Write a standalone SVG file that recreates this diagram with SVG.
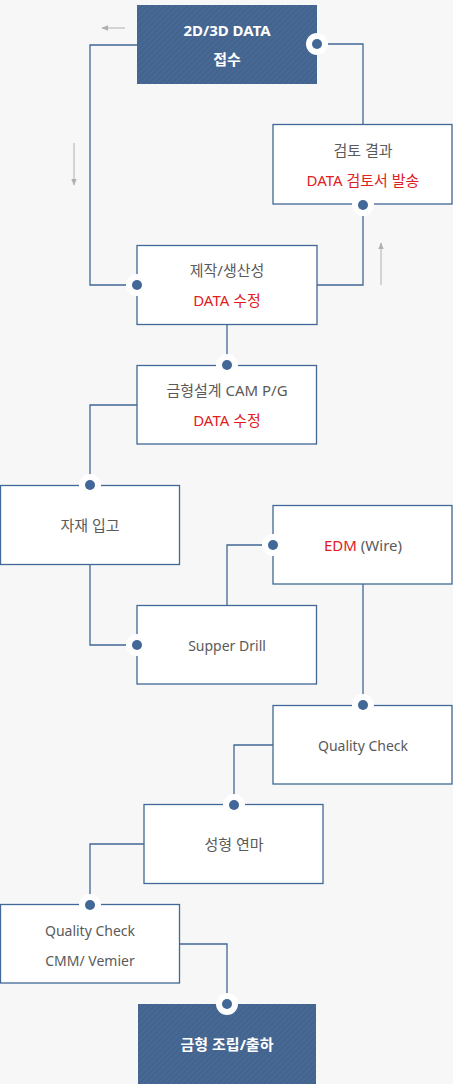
<svg xmlns="http://www.w3.org/2000/svg" width="453" height="1084" viewBox="0 0 453 1084">
<defs>
<pattern id="hatch" patternUnits="userSpaceOnUse" width="4" height="4" patternTransform="rotate(45)">
<rect width="4" height="4" fill="#466893"/>
<line x1="0" y1="0" x2="0" y2="4" stroke="#3d5f8a" stroke-width="1.5"/>
</pattern>
<marker id="ah" viewBox="0 0 10 10" refX="9" refY="5" markerWidth="7" markerHeight="7" orient="auto" markerUnits="userSpaceOnUse">
<path d="M0,1 L10,5 L0,9 z" fill="#b0b0b0"/>
</marker>
<style>
.box{fill:#fff;stroke:#416896;stroke-width:1.3}
.dark{fill:url(#hatch);stroke:none}
.t{font-family:"Noto Sans","Noto Sans CJK KR",sans-serif;font-size:15px;fill:#5a5a5a;text-anchor:middle;dominant-baseline:central}
.l{font-size:14px}
.r{fill:#e0201f}
.w{fill:#fff;font-weight:bold}
.c{fill:none;stroke:#416896;stroke-width:1.3}
.g{fill:none;stroke:#b0b0b0;stroke-width:1;marker-end:url(#ah)}
.halo{fill:#fff}
.dot{fill:#416896}
</style>
</defs>
<rect width="453" height="1084" fill="#f7f7f7"/>
<g id="connectors">
<polyline class="c" points="317,44 363,44 363,124"/>
<polyline class="c" points="137,45 90,45 90,285 137,285"/>
<polyline class="c" points="363,205 363,285 317,285"/>
<polyline class="c" points="227,324 227,365"/>
<polyline class="c" points="137,405 90,405 90,485"/>
<polyline class="c" points="90,564 90,645 137,645"/>
<polyline class="c" points="227,605 227,545 273,545"/>
<polyline class="c" points="363,584 363,705"/>
<polyline class="c" points="273,745 234,745 234,805"/>
<polyline class="c" points="144,844 90,844 90,905"/>
<polyline class="c" points="179,944 227,944 227,1004"/>
<line class="g" x1="125" y1="28" x2="102" y2="28"/>
<line class="g" x1="74" y1="143" x2="74" y2="185"/>
<line class="g" x1="381" y1="285" x2="381" y2="243"/>
</g>
<g id="n1">
<rect class="dark" x="137" y="5" width="180" height="79"/>
<text class="t w" x="227" y="30">2D/3D DATA</text>
<text class="t w" x="227" y="59">접수</text>
<circle class="halo" cx="317" cy="44" r="11"/><circle class="dot" cx="317" cy="44" r="5"/>
</g>
<g id="n2">
<rect class="box" x="273" y="124.5" width="179" height="79.5"/>
<text class="t" x="363" y="150">검토 결과</text>
<text class="t r" x="363" y="180">DATA 검토서 발송</text>
<circle class="halo" cx="363" cy="205" r="11"/><circle class="dot" cx="363" cy="205" r="5"/>
</g>
<g id="n3">
<rect class="box" x="137" y="245.5" width="180" height="79"/>
<text class="t" x="227" y="270">제작/생산성</text>
<text class="t r" x="227" y="300">DATA 수정</text>
<circle class="halo" cx="137" cy="285" r="11"/><circle class="dot" cx="137" cy="285" r="5"/>
</g>
<g id="n4">
<rect class="box" x="137" y="365.5" width="179.5" height="78.5"/>
<text class="t" x="227" y="390">금형설계 CAM P/G</text>
<text class="t r" x="227" y="420">DATA 수정</text>
<circle class="halo" cx="227" cy="365" r="11"/><circle class="dot" cx="227" cy="365" r="5"/>
</g>
<g id="n5">
<rect class="box" x="0.5" y="485.5" width="179" height="79"/>
<text class="t" x="90" y="525">자재 입고</text>
<circle class="halo" cx="90" cy="485" r="11"/><circle class="dot" cx="90" cy="485" r="5"/>
</g>
<g id="n6">
<rect class="box" x="137" y="605.5" width="179.5" height="78.5"/>
<text class="t l" x="227" y="645">Supper Drill</text>
<circle class="halo" cx="137" cy="645" r="11"/><circle class="dot" cx="137" cy="645" r="5"/>
</g>
<g id="n7">
<rect class="box" x="273" y="505.5" width="179" height="78.5"/>
<text class="t" x="363" y="545"><tspan class="r">EDM</tspan> (Wire)</text>
<circle class="halo" cx="273" cy="545" r="11"/><circle class="dot" cx="273" cy="545" r="5"/>
</g>
<g id="n8">
<rect class="box" x="273" y="705.5" width="179" height="78.5"/>
<text class="t l" x="363" y="745">Quality Check</text>
<circle class="halo" cx="363" cy="705" r="11"/><circle class="dot" cx="363" cy="705" r="5"/>
</g>
<g id="n9">
<rect class="box" x="144" y="804.5" width="179" height="79"/>
<text class="t" x="234" y="844">성형 연마</text>
<circle class="halo" cx="234" cy="805" r="11"/><circle class="dot" cx="234" cy="805" r="5"/>
</g>
<g id="n10">
<rect class="box" x="0.5" y="904.5" width="179" height="78.5"/>
<text class="t l" x="90" y="930">Quality Check</text>
<text class="t l" x="90" y="960">CMM/ Vemier</text>
<circle class="halo" cx="90" cy="905" r="11"/><circle class="dot" cx="90" cy="905" r="5"/>
</g>
<g id="n11">
<rect class="dark" x="138" y="1004" width="178" height="80"/>
<text class="t w" x="227" y="1044">금형 조립/출하</text>
<circle class="halo" cx="227" cy="1004" r="11"/><circle class="dot" cx="227" cy="1004" r="5"/>
</g>
</svg>
